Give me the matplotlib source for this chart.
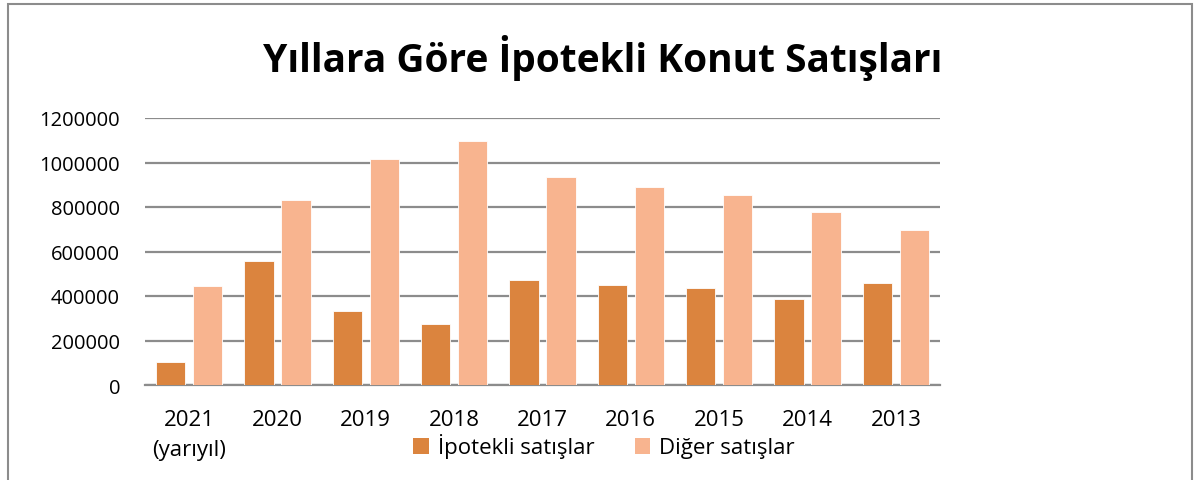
import numpy as np
import matplotlib.pyplot as plt
from matplotlib.patches import Rectangle, Patch

# --- data ---
years = ["2021\n(yarıyıl)", "2020", "2019", "2018", "2017",
         "2016", "2015", "2014", "2013"]
ipotekli = [102000, 559000, 333000, 276000, 471000,
            449000, 434000, 387000, 459000]
diger = [446000, 833000, 1016000, 1098000, 935000,
         891000, 855000, 776000, 696000]

C_IPO = "#DB843E"
C_DIG = "#F8B48F"
C_GRID = "#8C8C8C"

plt.rcParams["font.family"] = ["Open Sans", "DejaVu Sans"]

fig = plt.figure(figsize=(11.94, 4.81), dpi=100)
ax = fig.add_axes([145 / 1194, 1 - 386 / 481, 795 / 1194, 267 / 481])

x = np.arange(len(years))
w = 0.33
off = 0.21
ax.bar(x - off, ipotekli, w, color=C_IPO, edgecolor="white", lw=0.6,
       label="İpotekli satışlar", zorder=3)
ax.bar(x + off, diger, w, color=C_DIG, edgecolor="white", lw=0.6,
       label="Diğer satışlar", zorder=3)

ax.set_xlim(-0.5, len(years) - 0.5)
ax.set_ylim(0, 1200000)
ax.set_yticks(np.arange(0, 1200001, 200000))
ax.set_yticklabels([str(v) for v in range(0, 1200001, 200000)])
ax.set_xticks(x)
ax.set_xticklabels(years, linespacing=1.6)
ax.tick_params(axis="y", length=0, pad=18, labelsize=14.5)
ax.tick_params(axis="x", length=0, pad=17, labelsize=16)
for lbl in ax.get_xticklabels():
    lbl.set_verticalalignment("top")

ax.yaxis.grid(True, color=C_GRID, lw=1.6, zorder=0)
ax.set_axisbelow(True)
for s in ["left", "right", "top"]:
    ax.spines[s].set_visible(False)
ax.spines["bottom"].set_color(C_GRID)
ax.spines["bottom"].set_linewidth(1.6)

fig.text(0.505, 1 - 58 / 481, "Yıllara Göre İpotekli Konut Satışları",
         ha="center", va="center", fontsize=28, fontweight="bold")

handles = [Patch(facecolor=C_IPO), Patch(facecolor=C_DIG)]
fig.legend(handles, ["İpotekli satışlar", "Diğer satışlar"],
           loc="center", bbox_to_anchor=(604 / 1194, 1 - 447 / 481), ncol=2,
           frameon=False, fontsize=16, handlelength=0.7, handleheight=0.7,
           handletextpad=0.4, columnspacing=1.8)

# chart frame
fig.add_artist(Rectangle((8 / 1194, -0.05), 1184 / 1194, 1.05 - 5 / 481,
                         transform=fig.transFigure, fill=False,
                         edgecolor=C_GRID, lw=1.5))

fig.savefig("out.png", dpi=100)
